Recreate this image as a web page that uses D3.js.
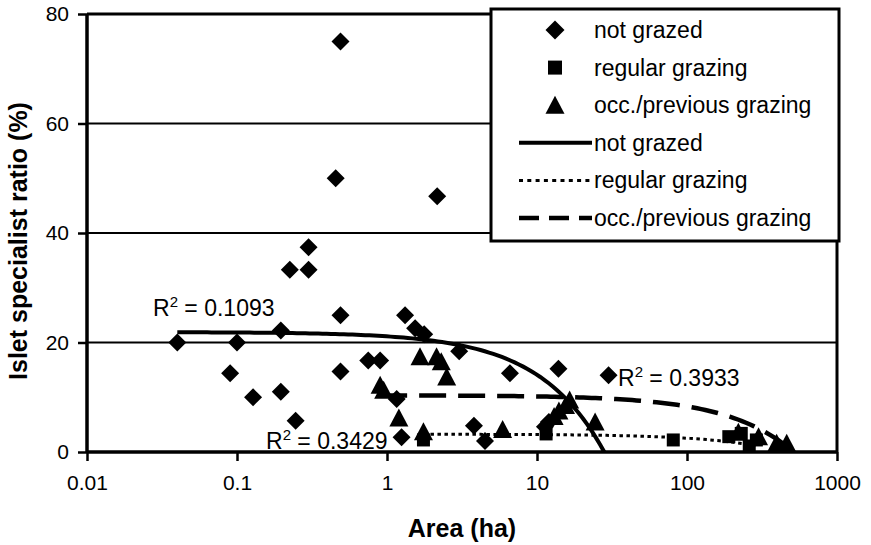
<!DOCTYPE html>
<html><head><meta charset="utf-8">
<script src="https://cdn.jsdelivr.net/npm/d3@7/dist/d3.min.js"></script>
<style>
html,body{margin:0;padding:0;background:#fff;}
svg text{font-family:"Liberation Sans",Arial,sans-serif;fill:#000;}
</style></head>
<body><svg id="c" width="871" height="545"></svg>
<script>
// ---- data ----
const notGrazedX = [0.04,0.09,0.1,0.128,0.196,0.196,0.225,0.246,0.3,0.3,0.455,0.49,0.49,0.49,0.75,0.9,1.16,1.25,1.32,1.54,1.77,2.16,3.03,3.8,4.5,6.6,11.3,12,13.9,30];
const notGrazedY = [20,14.4,20,10,22.2,11,33.3,5.7,33.3,37.4,50,75,25,14.7,16.7,16.7,9.7,2.7,25,22.6,21.5,46.7,18.4,4.8,2,14.4,4.6,5.5,15.2,14];
const regularX = [1.75,11.5,81,190,230,260,290];
const regularY = [2.2,3.3,2.2,2.8,3.4,1.1,2.2];
const occX = [0.9,0.95,1.2,1.75,1.66,2.14,2.3,2.5,5.9,13,14,15.5,16.5,24.4,220,300,396,462];
const occY = [12.2,11.3,6.2,3.7,17.4,17.4,16.5,13.7,4.1,6.5,7.5,8.5,9.5,5.5,3.6,2.8,1.6,1.6];
// linear trendlines y = a + b*x (Excel style), drawn over each series' x range
const trendNames = ["not grazed","regular grazing","occ./previous grazing"];
const trendA = [21.9,3.25,10.35];
const trendB = [-0.78,-0.0073,-0.0202];
const trendXmin = [0.04,1.75,0.9];
const trendXmax = [28.1,290,462];
const r2Labels = ["0.1093","0.3429","0.3933"];
const xTicks = [0.01,0.1,1,10,100,1000];
const xTickLabels = ["0.01","0.1","1","10","100","1000"];
const yTicks = [0,20,40,60,80];
const seriesNames = ["not grazed","regular grazing","occ./previous grazing"];

// ---- layout ----
const svg = d3.select("#c");
const L=87,R=837,T=14,B=452;
const x = d3.scaleLog().domain([0.01,1000]).range([L,R]);
const y = d3.scaleLinear().domain([0,80]).range([B,T]);

// gridlines
svg.append("g").selectAll("line").data(yTicks.filter(d=>d>0&&d<80)).join("line")
  .attr("x1",L).attr("x2",R).attr("y1",d=>y(d)).attr("y2",d=>y(d))
  .attr("stroke","#000").attr("stroke-width",2);
// plot border top & right
svg.append("line").attr("x1",L).attr("x2",R).attr("y1",T).attr("y2",T).attr("stroke","#000").attr("stroke-width",3);
svg.append("line").attr("x1",R).attr("x2",R).attr("y1",T).attr("y2",B).attr("stroke","#000").attr("stroke-width",3);

// axes
const xAxis = d3.axisBottom(x).tickValues(xTicks).tickFormat((d,i)=>xTickLabels[i]).tickSize(9).tickPadding(14);
const gx = svg.append("g").attr("transform",`translate(0,${B})`).call(xAxis);
gx.select(".domain").attr("stroke","#000").attr("stroke-width",3.5).attr("d",`M${L},0H${R}`);
gx.selectAll(".tick line").attr("stroke","#000").attr("stroke-width",2.5);
gx.selectAll(".tick text").attr("font-size",21).attr("font-family","Liberation Sans, Arial, sans-serif");

const yAxis = d3.axisLeft(y).tickValues(yTicks).tickSize(9).tickPadding(9);
const gy = svg.append("g").attr("transform",`translate(${L},0)`).call(yAxis);
gy.select(".domain").attr("stroke","#000").attr("stroke-width",3.5).attr("d",`M0,${T}V${B}`);
gy.selectAll(".tick line").attr("stroke","#000").attr("stroke-width",2.5);
gy.selectAll(".tick text").attr("font-size",21).attr("font-family","Liberation Sans, Arial, sans-serif");

// clip
svg.append("clipPath").attr("id","pc").append("rect").attr("x",L).attr("y",T).attr("width",R-L).attr("height",B-T);

// trendlines
const trendStyles = [
  {w:4,dash:null},
  {w:3,dash:"3.5,3.5"},
  {w:4.5,dash:"27,12"}
];
const tg = svg.append("g").attr("clip-path","url(#pc)");
trendNames.forEach((n,i)=>{
  const xs = d3.range(0,101).map(k=>Math.pow(10, Math.log10(trendXmin[i]) + k/100*(Math.log10(trendXmax[i])-Math.log10(trendXmin[i]))));
  const pts = xs.map(v=>[v, trendA[i]+trendB[i]*v]);
  tg.append("path").datum(pts)
    .attr("d", d3.line().x(d=>x(d[0])).y(d=>y(Math.max(d[1],-1))))
    .attr("fill","none").attr("stroke","#000").attr("stroke-width",trendStyles[i].w)
    .attr("stroke-dasharray",trendStyles[i].dash);
});

// markers
const diamond = s=>`M0,${-s}L${s},0L0,${s}L${-s},0Z`;
const square = s=>`M${-s},${-s}H${s}V${s}H${-s}Z`;
const tri = s=>`M0,${-s}L${s},${s*0.9}H${-s}Z`;
const mg = svg.append("g");
mg.selectAll(".d").data(d3.zip(notGrazedX,notGrazedY)).join("path").attr("class","d")
  .attr("transform",d=>`translate(${x(d[0])},${y(d[1])})`).attr("d",diamond(9)).attr("fill","#000");
mg.selectAll(".s").data(d3.zip(regularX,regularY)).join("path").attr("class","s")
  .attr("transform",d=>`translate(${x(d[0])},${y(d[1])})`).attr("d",square(6.5)).attr("fill","#000");
mg.selectAll(".t").data(d3.zip(occX,occY)).join("path").attr("class","t")
  .attr("transform",d=>`translate(${x(d[0])},${y(d[1])})`).attr("d",tri(9.5)).attr("fill","#000");

// R² labels
const r2Pos = [[153,316],[266,449],[618,386]];
r2Labels.forEach((v,i)=>{
  const t = svg.append("text").attr("x",r2Pos[i][0]).attr("y",r2Pos[i][1]).attr("font-size",23);
  t.append("tspan").text("R");
  t.append("tspan").attr("font-size",15).attr("dy",-9).text("2");
  t.append("tspan").attr("dy",9).text(" = "+v);
});

// axis titles
svg.append("text").attr("transform","translate(27,241) rotate(-90)").attr("text-anchor","middle")
  .attr("font-size",25).attr("font-weight","bold").text("Islet specialist ratio (%)");
svg.append("text").attr("x",462).attr("y",537).attr("text-anchor","middle")
  .attr("font-size",25).attr("font-weight","bold").text("Area (ha)");

// legend
const lg = svg.append("g");
lg.append("rect").attr("x",491).attr("y",9).attr("width",348).attr("height",232)
  .attr("fill","#fff").attr("stroke","#000").attr("stroke-width",3);
const rowY = d3.range(6).map(i=>30+i*37.6);
const legendItems = [
  {t:"m",shape:diamond(9.5),label:seriesNames[0]},
  {t:"m",shape:square(7),label:seriesNames[1]},
  {t:"m",shape:tri(9.5),label:seriesNames[2]},
  {t:"l",st:0,label:trendNames[0]},
  {t:"l",st:1,label:trendNames[1]},
  {t:"l",st:2,label:trendNames[2]}
];
legendItems.forEach((it,i)=>{
  const cy=rowY[i];
  if(it.t==="m"){
    lg.append("path").attr("transform",`translate(555,${cy})`).attr("d",it.shape).attr("fill","#000");
  } else {
    const s=trendStyles[it.st];
    lg.append("line").attr("x1",519).attr("x2",592).attr("y1",cy).attr("y2",cy)
      .attr("stroke","#000").attr("stroke-width",s.w).attr("stroke-dasharray",it.st===1?"4,4.3":(it.st===2?"20,10":null));
  }
  lg.append("text").attr("x",594).attr("y",cy+8).attr("font-size",23).text(it.label);
});
</script></body></html>
